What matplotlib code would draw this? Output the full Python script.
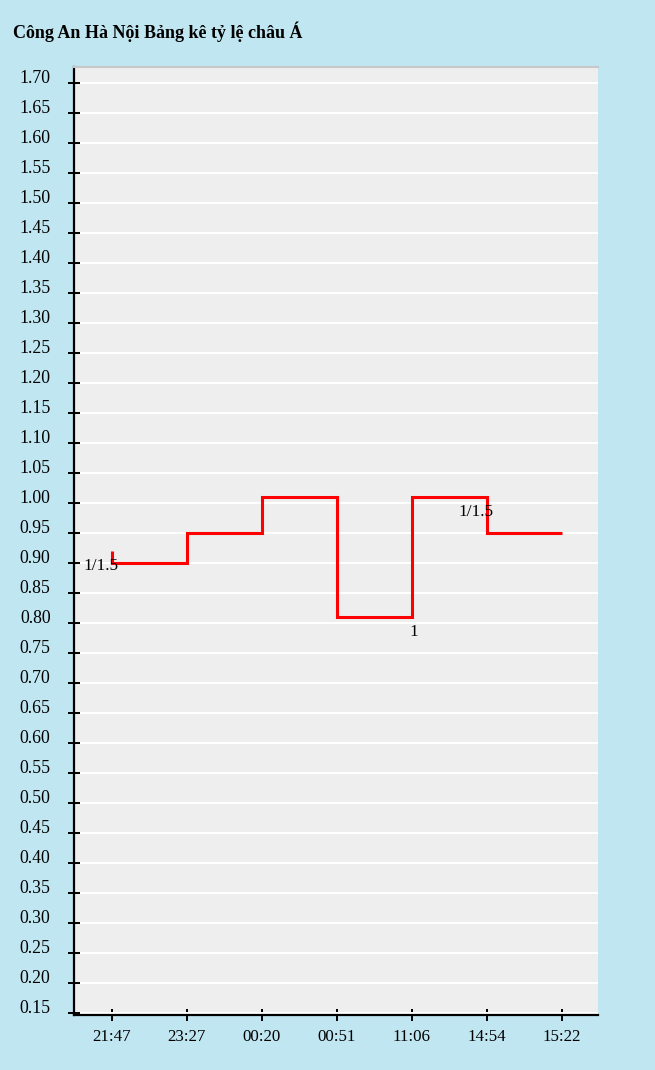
import matplotlib
matplotlib.use("Agg")
import matplotlib.pyplot as plt
import matplotlib.transforms as mtransforms
import numpy as np

# ---- data ----
time_labels = ["21:47", "23:27", "00:20", "00:51", "11:06", "14:54", "15:22"]
odds_values = [0.90, 0.95, 1.01, 0.81, 1.01, 0.95, 0.95]
start_value = 0.92
y_ticks = [round(0.15 + 0.05 * i, 2) for i in range(32)]
ann_index = [0, 4, 5]
ann_text = ["1/1.5", "1", "1/1.5"]

title = "Công An Hà Nội Bảng kê tỷ lệ châu Á"

# ---- style ----
BG = "#c0e6f1"
PLOT_BG = "#eeeeee"
FONT = ["Liberation Serif", "DejaVu Serif"]
plt.rcParams["font.family"] = FONT

fig = plt.figure(figsize=(6.55, 10.70), dpi=100, facecolor=BG)
ax = fig.add_axes([74 / 655, 1 - 1015.3 / 1070, (597.7 - 74) / 655, (1015.3 - 67) / 1070])
ax.set_facecolor(PLOT_BG)

xs = np.arange(len(time_labels))
line_x = np.concatenate([[xs[0]], xs])
line_y = np.concatenate([[start_value], odds_values])
ax.plot(line_x, line_y, drawstyle="steps-post", color="#ff0000", lw=2.2,
        solid_joinstyle="miter", solid_capstyle="butt", zorder=3)

# annotations: placed at the value before the step at that index
prev_vals = [start_value] + list(odds_values[:-1])
for i, t in zip(ann_index, ann_text):
    ax.annotate(t, xy=(xs[i], prev_vals[i]), xytext=(6.5 * 0.72, -19 * 0.72),
                textcoords="offset points", ha="right", va="baseline",
                fontsize=12.4, color="#000000", zorder=4)

ax.set_xlim(-0.503, 6.476)
ax.set_ylim(0.1457, 1.726)
ax.set_yticks(y_ticks)
ax.set_yticklabels([f"{v:.2f}" for v in y_ticks])
ax.set_xticks(xs)
ax.set_xticklabels(time_labels)

ax.yaxis.grid(True, color="white", lw=1.45, zorder=0)
ax.xaxis.grid(False)
ax.set_axisbelow(True)

for s in ["left", "bottom"]:
    ax.spines[s].set_color("black")
    ax.spines[s].set_linewidth(1.6)
ax.spines["right"].set_visible(False)
ax.spines["top"].set_color("#c8c8c8")
ax.spines["top"].set_linewidth(1.5)

ax.tick_params(axis="y", direction="inout", length=8.6, width=1.4, color="black",
               labelsize=12.8, pad=12.6)
ax.tick_params(axis="x", direction="inout", length=8, width=1.4, color="black",
               labelsize=12.2, pad=6)

# y tick labels sit slightly above their ticks in the reference
shift = mtransforms.ScaledTranslation(0, 6 / 100, fig.dpi_scale_trans)
for lab in ax.get_yticklabels():
    lab.set_transform(lab.get_transform() + shift)

fig.text(13 / 655, 1 - 38 / 1070, title, fontsize=13, fontweight="bold",
         ha="left", va="baseline", color="black")

fig.savefig("out.png", dpi=100, facecolor=BG)
